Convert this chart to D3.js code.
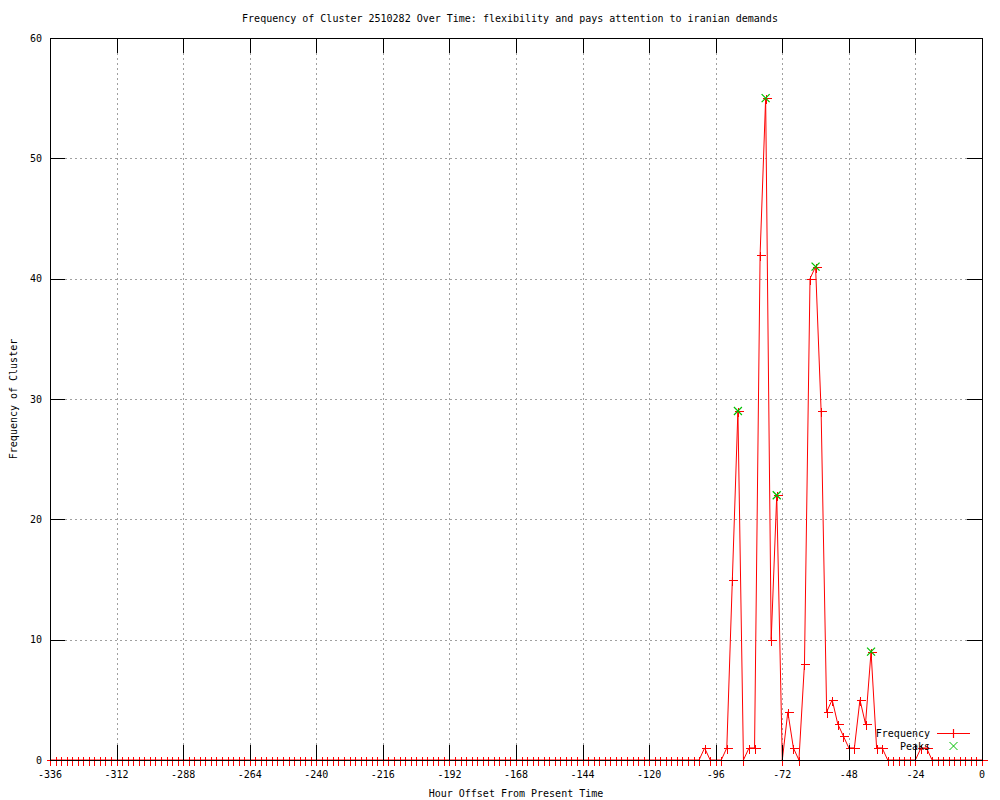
<!DOCTYPE html>
<html>
<head>
<meta charset="utf-8">
<script src="https://cdn.jsdelivr.net/npm/d3@7"></script>
<style>
  body { margin: 0; background: #fff; }
  text { font-family: "DejaVu Sans Mono", "Liberation Mono", monospace; font-size: 10px; fill: #000; }
</style>
</head>
<body>
<div id="chart"></div>
<script>
// Chart data: one count every 2 hours, from -336 to 0
const hours = d3.range(-336, 1, 2);
const frequency = [
  0, 0, 0, 0, 0, 0, 0, 0, 0, 0, 0, 0,     // -336 .. -314
  0, 0, 0, 0, 0, 0, 0, 0, 0, 0, 0, 0,     // -312 .. -290
  0, 0, 0, 0, 0, 0, 0, 0, 0, 0, 0, 0,     // -288 .. -266
  0, 0, 0, 0, 0, 0, 0, 0, 0, 0, 0, 0,     // -264 .. -242
  0, 0, 0, 0, 0, 0, 0, 0, 0, 0, 0, 0,     // -240 .. -218
  0, 0, 0, 0, 0, 0, 0, 0, 0, 0, 0, 0,     // -216 .. -194
  0, 0, 0, 0, 0, 0, 0, 0, 0, 0, 0, 0,     // -192 .. -170
  0, 0, 0, 0, 0, 0, 0, 0, 0, 0, 0, 0,     // -168 .. -146
  0, 0, 0, 0, 0, 0, 0, 0, 0, 0, 0, 0,     // -144 .. -122
  0, 0, 0, 0, 0, 0, 0, 0, 0, 0, 1, 0,     // -120 .. -98
  0, 0, 1, 15, 29, 0, 1, 1, 42, 55, 10, 22, // -96 .. -74
  0, 4, 1, 0, 8, 40, 41, 29, 4, 5, 3, 2,  // -72 .. -50
  1, 1, 5, 3, 9, 1, 1, 0, 0, 0, 0, 0,     // -48 .. -26
  0, 1, 1, 0, 0, 0, 0, 0, 0, 0, 0, 0,     // -24 .. -2
  0                                       // 0
];
const peakHours = [-88, -78, -74, -60, -40];
const peakValues = [29, 55, 22, 41, 9];
const xTicks = [-336, -312, -288, -264, -240, -216, -192, -168, -144, -120, -96, -72, -48, -24, 0];
const yTicks = [0, 10, 20, 30, 40, 50, 60];

const title = "Frequency of Cluster 2510282 Over Time: flexibility and pays attention to iranian demands";

// Dimensions
const margin = { top: 38, right: 18, bottom: 40, left: 50 };
const width = 1000 - margin.left - margin.right;
const height = 800 - margin.top - margin.bottom;

const svgRoot = d3.select("#chart").append("svg")
    .attr("width", 1000)
    .attr("height", 800);

const svg = svgRoot.append("g")
    .attr("transform", `translate(${margin.left},${margin.top})`);

const x = d3.scaleLinear().domain([-336, 0]).range([0, width]);
const y = d3.scaleLinear().domain([0, 60]).range([height, 0]);

// Grid lines
svg.selectAll(".vgrid")
    .data(xTicks.slice(1, -1))
  .enter().append("line")
    .attr("x1", d => Math.round(x(d)) + 0.5).attr("x2", d => Math.round(x(d)) + 0.5)
    .attr("y1", 0).attr("y2", height)
    .style("stroke", "#a0a0a0")
    .style("stroke-dasharray", "2,3");

svg.selectAll(".hgrid")
    .data(yTicks.slice(1, -1))
  .enter().append("line")
    .attr("x1", 0).attr("x2", width)
    .attr("y1", d => Math.round(y(d)) + 0.5).attr("y2", d => Math.round(y(d)) + 0.5)
    .style("stroke", "#a0a0a0")
    .style("stroke-dasharray", "2,3");

// Frequency line
const points = hours.map((h, i) => ({ h: h, v: frequency[i] }));
const line = d3.line()
    .x(d => x(d.h))
    .y(d => y(d.v));

svg.append("path")
    .datum(points)
    .attr("d", line)
    .style("fill", "none")
    .style("stroke", "#ff0000")
    .style("stroke-width", 1);

// "+" markers
const plus = svg.selectAll(".plus")
    .data(points)
  .enter().append("g")
    .attr("class", "plus")
    .attr("transform", d => `translate(${Math.round(x(d.h)) + 0.5},${Math.round(y(d.v)) + 0.5})`)
    .style("shape-rendering", "crispEdges");
plus.append("line").attr("x1", -4).attr("x2", 5).attr("y1", 0).attr("y2", 0)
    .style("stroke", "#ff0000");
plus.append("line").attr("x1", 0).attr("x2", 0).attr("y1", -4).attr("y2", 5)
    .style("stroke", "#ff0000");

// Peaks "x" markers
const peaks = peakHours.map((h, i) => ({ h: h, v: peakValues[i] }));
const cross = svg.selectAll(".peak")
    .data(peaks)
  .enter().append("g")
    .attr("class", "peak")
    .attr("transform", d => `translate(${x(d.h)},${y(d.v)})`);
cross.append("line").attr("x1", -4).attr("x2", 4).attr("y1", -4).attr("y2", 4)
    .style("stroke", "#00c000")
    .style("stroke-width", 1.2);
cross.append("line").attr("x1", -4).attr("x2", 4).attr("y1", 4).attr("y2", -4)
    .style("stroke", "#00c000")
    .style("stroke-width", 1.2);

// Border
svg.append("rect")
    .attr("x", 0.5).attr("y", 0.5)
    .attr("width", width).attr("height", height)
    .style("fill", "none")
    .style("stroke", "#000")
    .style("shape-rendering", "crispEdges");

// Ticks (inward, mirrored)
const tickLen = 15;
xTicks.forEach(t => {
  const px = Math.round(x(t)) + 0.5;
  svg.append("line").attr("x1", px).attr("x2", px).attr("y1", height).attr("y2", height - tickLen).style("stroke", "#000");
  svg.append("line").attr("x1", px).attr("x2", px).attr("y1", 0).attr("y2", tickLen).style("stroke", "#000");
  svg.append("text")
      .attr("x", x(t))
      .attr("y", height + 18)
      .style("text-anchor", "middle")
      .text(t);
});
yTicks.forEach(t => {
  const py = Math.round(y(t)) + 0.5;
  svg.append("line").attr("x1", 0).attr("x2", tickLen).attr("y1", py).attr("y2", py).style("stroke", "#000");
  svg.append("line").attr("x1", width).attr("x2", width - tickLen).attr("y1", py).attr("y2", py).style("stroke", "#000");
  svg.append("text")
      .attr("x", -8)
      .attr("y", y(t))
      .attr("dy", "0.35em")
      .style("text-anchor", "end")
      .text(t);
});

// Title and axis labels
svgRoot.append("text")
    .attr("x", 510)
    .attr("y", 22)
    .style("text-anchor", "middle")
    .text(title);

svgRoot.append("text")
    .attr("x", margin.left + width / 2)
    .attr("y", 797)
    .style("text-anchor", "middle")
    .text("Hour Offset From Present Time");

svgRoot.append("text")
    .attr("transform", "rotate(-90)")
    .attr("x", -(margin.top + height / 2))
    .attr("y", 17)
    .style("text-anchor", "middle")
    .text("Frequency of Cluster");

// Legend
const legend = svgRoot.append("g");
legend.append("text").attr("x", 930).attr("y", 733).attr("dy", "0.35em")
    .style("text-anchor", "end").text("Frequency");
legend.append("line").attr("x1", 937).attr("x2", 970).attr("y1", 733.5).attr("y2", 733.5)
    .style("stroke", "#ff0000")
    .style("stroke-width", 1.2);
legend.append("line").attr("x1", 953.5).attr("x2", 953.5).attr("y1", 729).attr("y2", 738)
    .style("stroke", "#ff0000")
    .style("stroke-width", 1.2);
legend.append("text").attr("x", 930).attr("y", 746).attr("dy", "0.35em")
    .style("text-anchor", "end").text("Peaks");
legend.append("line").attr("x1", 949.5).attr("x2", 957.5).attr("y1", 742).attr("y2", 750)
    .style("stroke", "#00c000");
legend.append("line").attr("x1", 949.5).attr("x2", 957.5).attr("y1", 750).attr("y2", 742)
    .style("stroke", "#00c000");
</script>
</body>
</html>
